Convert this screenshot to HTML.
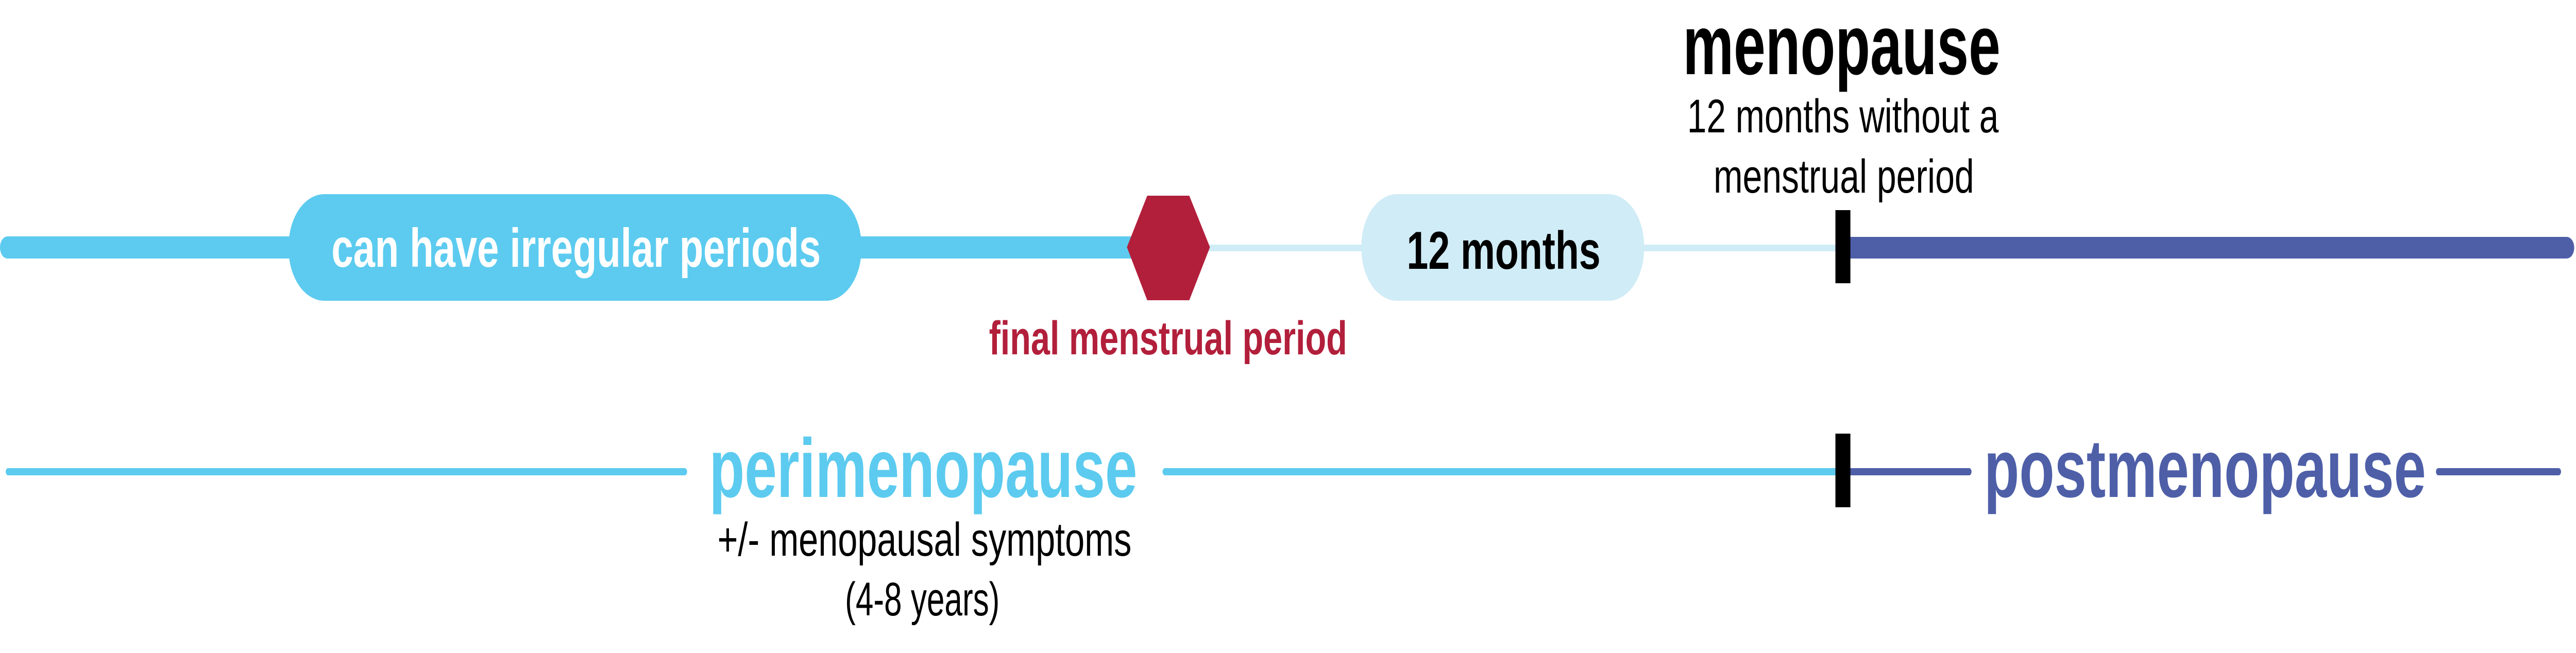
<!DOCTYPE html>
<html><head><meta charset="utf-8"><style>
html,body{margin:0;padding:0;background:#fff;width:100%;height:100%;overflow:hidden;}
svg{display:block;width:100vw;height:100vh;}
text{font-family:"Liberation Sans",sans-serif;}
</style></head><body>
<svg viewBox="0 0 7228 1268" preserveAspectRatio="none" xmlns="http://www.w3.org/2000/svg">
<rect x="0" y="459" width="3200" height="43" rx="21" fill="#5ccbef"/>
<rect x="3380" y="475" width="1780" height="13" fill="#d0ecf6"/>
<rect x="5170" y="460" width="2053" height="42" rx="21" fill="#4e5fa8"/>
<rect x="810" y="377" width="1607" height="207" rx="100" fill="#5ccbef"/>
<text x="930" y="518" font-size="106" font-weight="bold" fill="#fff" textLength="1373" lengthAdjust="spacingAndGlyphs">can have irregular periods</text>
<polygon points="3162,480 3219,380 3337,380 3395,480 3337,583 3219,583" fill="#b21f3b"/>
<text x="2775" y="688" font-size="92" font-weight="bold" fill="#b21f3b" textLength="1005" lengthAdjust="spacingAndGlyphs">final menstrual period</text>
<rect x="3820" y="377" width="793" height="207" rx="100" fill="#d0ecf6"/>
<text x="3947" y="522" font-size="104" font-weight="bold" fill="#000" textLength="544" lengthAdjust="spacingAndGlyphs">12 months</text>
<text x="4722" y="144" font-size="165" font-weight="bold" fill="#000" textLength="891" lengthAdjust="spacingAndGlyphs">menopause</text>
<text x="4734" y="257" font-size="92" fill="#000" textLength="874" lengthAdjust="spacingAndGlyphs">12 months without a</text>
<text x="4808" y="374" font-size="92" fill="#000" textLength="731" lengthAdjust="spacingAndGlyphs">menstrual period</text>
<rect x="5150" y="408" width="42" height="142" fill="#000"/>
<rect x="16" y="909" width="1912" height="14" rx="7" fill="#5ccbef"/>
<rect x="3262" y="909" width="1900" height="14" rx="7" fill="#5ccbef"/>
<rect x="5180" y="909" width="352" height="14" rx="7" fill="#4e5fa8"/>
<rect x="6835" y="909" width="351" height="14" rx="7" fill="#4e5fa8"/>
<rect x="5150" y="842" width="42" height="143" fill="#000"/>
<text x="1990" y="965" font-size="162" font-weight="bold" fill="#5ccbef" textLength="1201" lengthAdjust="spacingAndGlyphs">perimenopause</text>
<text x="2013" y="1079" font-size="92" fill="#000" textLength="1162" lengthAdjust="spacingAndGlyphs">+/- menopausal symptoms</text>
<text x="2371" y="1195" font-size="92" fill="#000" textLength="434" lengthAdjust="spacingAndGlyphs">(4-8 years)</text>
<text x="5567" y="965" font-size="160" font-weight="bold" fill="#4e5fa8" textLength="1240" lengthAdjust="spacingAndGlyphs">postmenopause</text>
</svg>
</body></html>
